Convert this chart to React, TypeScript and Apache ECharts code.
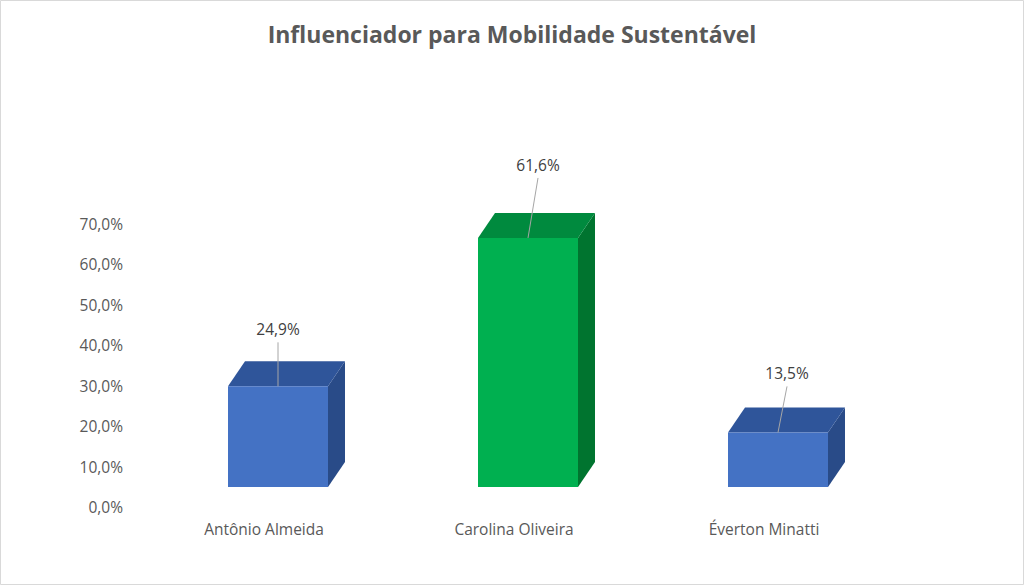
import React, { useEffect, useRef } from "react";
import * as echarts from "echarts";

const categories = ["Antônio Almeida", "Carolina Oliveira", "Éverton Minatti"];
const values = [24.9, 61.6, 13.5];
const yTicks = [0, 10, 20, 30, 40, 50, 60, 70];
const title = "Influenciador para Mobilidade Sustentável";

const palette = [
  { front: "#4472C4", top: "#2F559A", side: "#294B88" },
  { front: "#00B050", top: "#008A3E", side: "#00742F" },
  { front: "#4472C4", top: "#2F559A", side: "#294B88" },
];
const labelShiftX = [0, 10, 9];
const labelShiftY = [57, 73, 59];

const fmt = (v: number) => v.toFixed(1).replace(".", ",") + "%";

export default function App() {
  const ref = useRef<HTMLDivElement>(null);
  useEffect(() => {
    document.body.style.margin = "0";
    const chart = echarts.init(ref.current!, null, { renderer: "svg" });
    const FONT = "'Open Sans', 'Noto Sans', sans-serif";
    chart.setOption({
      animation: false,
      backgroundColor: "#ffffff",
      title: {
        text: title,
        left: "center",
        top: 17,
        textStyle: { fontFamily: FONT, fontSize: 23, fontWeight: "bold", color: "#595959" },
      },
      grid: { left: 139, right: 135, top: 224, bottom: 78 },
      xAxis: {
        type: "category",
        data: categories,
        axisLine: { show: false },
        axisTick: { show: false },
        axisLabel: { color: "#595959", fontFamily: FONT, fontSize: 15.5, margin: 14 },
      },
      yAxis: {
        type: "value",
        min: yTicks[0],
        max: yTicks[yTicks.length - 1],
        interval: 10,
        splitLine: { show: false },
        axisLine: { show: false },
        axisTick: { show: false },
        axisLabel: {
          color: "#595959",
          fontFamily: FONT,
          fontSize: 15.5,
          margin: 16,
          formatter: (v: number) => fmt(v),
        },
      },
      graphic: [
        {
          type: "rect",
          shape: { x: 0.5, y: 0.5, width: 1023, height: 584 },
          style: { fill: "none", stroke: "#d9d9d9", lineWidth: 1 },
          silent: true,
        },
      ],
      series: [
        {
          type: "custom",
          data: values.map((v, i) => [i, v]),
          encode: { x: 0, y: 1 },
          renderItem: (params: any, api: any) => {
            const idx = api.value(0);
            const v = api.value(1);
            const base = api.coord([idx, 0]);
            const topPt = api.coord([idx, v]);
            const cx = base[0] + 14;
            const y0 = base[1] - 20;
            const y1 = topPt[1] - 20;
            const hw = 50;
            const dx = 17;
            const dy = -25;
            const c = palette[idx];
            const lx = cx + labelShiftX[idx];
            const ly = y1 - labelShiftY[idx];
            return {
              type: "group",
              children: [
                {
                  type: "polygon",
                  shape: {
                    points: [
                      [cx + hw, y0],
                      [cx + hw + dx, y0 + dy],
                      [cx + hw + dx, y1 + dy],
                      [cx + hw, y1],
                    ],
                  },
                  style: { fill: c.side },
                },
                {
                  type: "polygon",
                  shape: {
                    points: [
                      [cx - hw, y1],
                      [cx - hw + dx, y1 + dy],
                      [cx + hw + dx, y1 + dy],
                      [cx + hw, y1],
                    ],
                  },
                  style: { fill: c.top },
                },
                {
                  type: "rect",
                  shape: { x: cx - hw, y: y1, width: hw * 2, height: y0 - y1 },
                  style: { fill: c.front },
                },
                {
                  type: "line",
                  shape: { x1: lx, y1: ly + 13, x2: cx, y2: y1 },
                  style: { stroke: "#a6a6a6", lineWidth: 1 },
                },
                {
                  type: "text",
                  x: lx,
                  y: ly,
                  style: {
                    text: fmt(v),
                    fill: "#404040",
                    font: `15.5px ${FONT}`,
                    align: "center",
                    verticalAlign: "middle",
                  },
                },
              ],
            };
          },
        },
      ],
    });
    return () => chart.dispose();
  }, []);
  return <div ref={ref} style={{ width: 1024, height: 585 }} />;
}
